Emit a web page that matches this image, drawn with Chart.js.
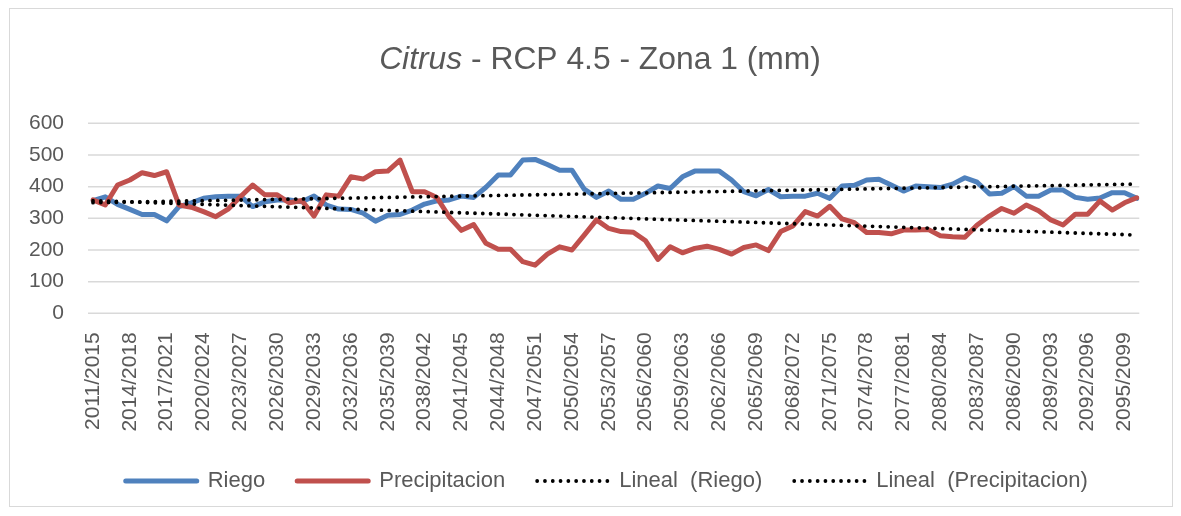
<!DOCTYPE html>
<html>
<head>
<meta charset="utf-8">
<script src="https://cdn.jsdelivr.net/npm/chart.js@4.4.1/dist/chart.umd.min.js"></script>
<style>
  html, body { margin: 0; padding: 0; background: #ffffff; }
  #wrap { position: relative; width: 1181px; height: 516px; overflow: hidden; }
  #frame { position: absolute; left: 9px; top: 8px; width: 1164px; height: 499px; border: 1px solid #d9d9d9; box-sizing: border-box; pointer-events: none; }
  canvas { position: absolute; left: 0; top: 0; }
</style>
</head>
<body>
<div id="wrap">
  <canvas id="c" width="1181" height="516"></canvas>
  <div id="frame"></div>
</div>
<script>
const titleItalic = 'Citrus';
const titleRest = ' - RCP 4.5 - Zona 1 (mm)';

const categories = [
  '2011/2015','2012/2016','2013/2017','2014/2018','2015/2019','2016/2020','2017/2021','2018/2022','2019/2023','2020/2024',
  '2021/2025','2022/2026','2023/2027','2024/2028','2025/2029','2026/2030','2027/2031','2028/2032','2029/2033','2030/2034',
  '2031/2035','2032/2036','2033/2037','2034/2038','2035/2039','2036/2040','2037/2041','2038/2042','2039/2043','2040/2044',
  '2041/2045','2042/2046','2043/2047','2044/2048','2045/2049','2046/2050','2047/2051','2048/2052','2049/2053','2050/2054',
  '2051/2055','2052/2056','2053/2057','2054/2058','2055/2059','2056/2060','2057/2061','2058/2062','2059/2063','2060/2064',
  '2061/2065','2062/2066','2063/2067','2064/2068','2065/2069','2066/2070','2067/2071','2068/2072','2069/2073','2070/2074',
  '2071/2075','2072/2076','2073/2077','2074/2078','2075/2079','2076/2080','2077/2081','2078/2082','2079/2083','2080/2084',
  '2081/2085','2082/2086','2083/2087','2084/2088','2085/2089','2086/2090','2087/2091','2088/2092','2089/2093','2090/2094',
  '2091/2095','2092/2096','2093/2097','2094/2098','2095/2099','2096/2100'
];

const riego = [
  356,368,344,328,312,312,292,337,349,363,
  368,370,370,337,352,358,358,352,370,342,
  329,328,316,291,310,312,326,345,355,358,
  370,366,398,437,437,484,486,470,452,452,
  392,366,386,360,360,379,402,394,431,449,
  449,449,421,384,371,391,368,370,370,379,
  363,402,404,421,423,405,386,402,400,397,
  408,428,414,377,379,400,370,370,389,389,
  366,360,364,381,381,363
];

const precipitacion = [
  358,342,405,421,444,435,447,342,335,321,
  305,329,368,405,374,374,349,356,307,374,
  370,431,424,447,449,484,384,384,366,305,
  262,280,221,202,202,163,152,187,210,200,
  247,295,268,258,256,229,170,210,191,205,
  212,202,187,208,216,198,258,276,321,307,
  338,298,286,255,255,251,263,263,265,245,
  242,240,279,307,331,316,342,324,295,279,
  313,313,355,326,349,365
];

const yTicks = [0, 100, 200, 300, 400, 500, 600];
const seriesNames = ['Riego', 'Precipitacion', 'Lineal  (Riego)', 'Lineal  (Precipitacion)'];

// Least-squares linear trendline (as Excel "Lineal" trendline)
function linearTrend(values) {
  const n = values.length;
  let sx = 0, sy = 0, sxx = 0, sxy = 0;
  values.forEach((v, i) => { const x = i + 1; sx += x; sy += v; sxx += x * x; sxy += x * v; });
  const b = (n * sxy - sx * sy) / (n * sxx - sx * sx);
  const a = (sy - b * sx) / n;
  return values.map((_, i) => a + b * (i + 1));
}

const GRID = '#d9d9d9';
const TEXT = '#595959';
const FONT = '"Liberation Sans", Arial, sans-serif';
Chart.defaults.font.family = FONT;
Chart.defaults.color = TEXT;

const titlePlugin = {
  id: 'mixedTitle',
  afterDraw(chart) {
    const ctx = chart.ctx;
    ctx.save();
    const size = 31.8;
    ctx.font = 'italic ' + size + 'px ' + FONT;
    const w1 = ctx.measureText(titleItalic).width;
    ctx.font = size + 'px ' + FONT;
    const w2 = ctx.measureText(titleRest).width;
    const x0 = 600 - (w1 + w2) / 2;
    const base = 68.5;
    ctx.fillStyle = TEXT;
    ctx.textBaseline = 'alphabetic';
    ctx.textAlign = 'left';
    ctx.font = 'italic ' + size + 'px ' + FONT;
    ctx.fillText(titleItalic, x0, base);
    ctx.font = size + 'px ' + FONT;
    ctx.fillText(titleRest, x0 + w1, base);
    ctx.restore();
  }
};

const gridPlugin = {
  id: 'hGrid',
  beforeDatasetsDraw(chart) {
    const ctx = chart.ctx;
    const y = chart.scales.y;
    const area = chart.chartArea;
    ctx.save();
    ctx.strokeStyle = GRID;
    ctx.lineWidth = 1.5;
    yTicks.forEach(v => {
      const py = y.getPixelForValue(v);
      ctx.beginPath();
      ctx.moveTo(area.left - 5, py);
      ctx.lineTo(area.right + 2.5, py);
      ctx.stroke();
    });
    ctx.restore();
  }
};

// shift the legend row so that it is centred like the reference
const legendShift = {
  id: 'legendShift',
  afterLayout(chart) {
    if (chart.legend) { chart.legend.left += 29; chart.legend.right += 29; }
  }
};

const ds = [
  { label: seriesNames[0], data: riego, borderColor: '#4f81bd', backgroundColor: '#4f81bd', borderWidth: 5, order: 3, borderCapStyle: 'round' },
  { label: seriesNames[1], data: precipitacion, borderColor: '#c0504d', backgroundColor: '#c0504d', borderWidth: 5, order: 2, borderCapStyle: 'round' },
  { label: seriesNames[2], data: linearTrend(riego), borderColor: '#000000', backgroundColor: '#000000', borderWidth: 3.8, borderDash: [0, 7.8], borderCapStyle: 'round', order: 1 },
  { label: seriesNames[3], data: linearTrend(precipitacion), borderColor: '#000000', backgroundColor: '#000000', borderWidth: 3.8, borderDash: [0, 7.8], borderCapStyle: 'round', order: 0 }
];
ds.forEach(d => { d.pointRadius = 0; d.pointHoverRadius = 0; d.tension = 0; d.fill = false; d.borderJoinStyle = 'round'; });

new Chart(document.getElementById('c'), {
  type: 'line',
  data: { labels: categories, datasets: ds },
  options: {
    responsive: false,
    animation: false,
    events: [],
    layout: { padding: { left: 0, right: 25.5, top: 123.3, bottom: 14 } },
    scales: {
      x: {
        offset: false,
        grid: { display: false, drawTicks: false },
        border: { display: false },
        afterFit(scale) { scale.height = 124.7; },
        ticks: {
          autoSkip: false,
          minRotation: 90,
          maxRotation: 90,
          padding: 19,
          color: TEXT,
          font: { size: 21 },
          callback(val, idx) { return idx % 3 === 0 ? categories[idx] : ''; }
        }
      },
      y: {
        min: 0,
        max: 600,
        grid: { display: false, drawTicks: false },
        border: { display: false },
        afterFit(scale) { scale.width = 93; },
        afterBuildTicks(scale) { scale.ticks = yTicks.map(v => ({ value: v })); },
        ticks: { padding: 29, color: TEXT, font: { size: 21 } }
      }
    },
    plugins: {
      title: { display: false },
      tooltip: { enabled: false },
      legend: {
        display: true,
        position: 'bottom',
        labels: {
          usePointStyle: true,
          pointStyle: 'line',
          pointStyleWidth: 71,
          padding: 32,
          color: TEXT,
          font: { size: 22 },
          generateLabels(chart) {
            return chart.data.datasets.map((d, i) => ({
              text: d.label,
              fillStyle: d.borderColor,
              strokeStyle: d.borderColor,
              lineWidth: d.borderWidth,
              lineDash: d.borderDash || [],
              lineCap: d.borderCapStyle || 'butt',
              pointStyle: 'line',
              fontColor: TEXT,
              hidden: false,
              datasetIndex: i
            }));
          }
        }
      }
    }
  },
  plugins: [gridPlugin, titlePlugin, legendShift]
});
</script>
</body>
</html>
